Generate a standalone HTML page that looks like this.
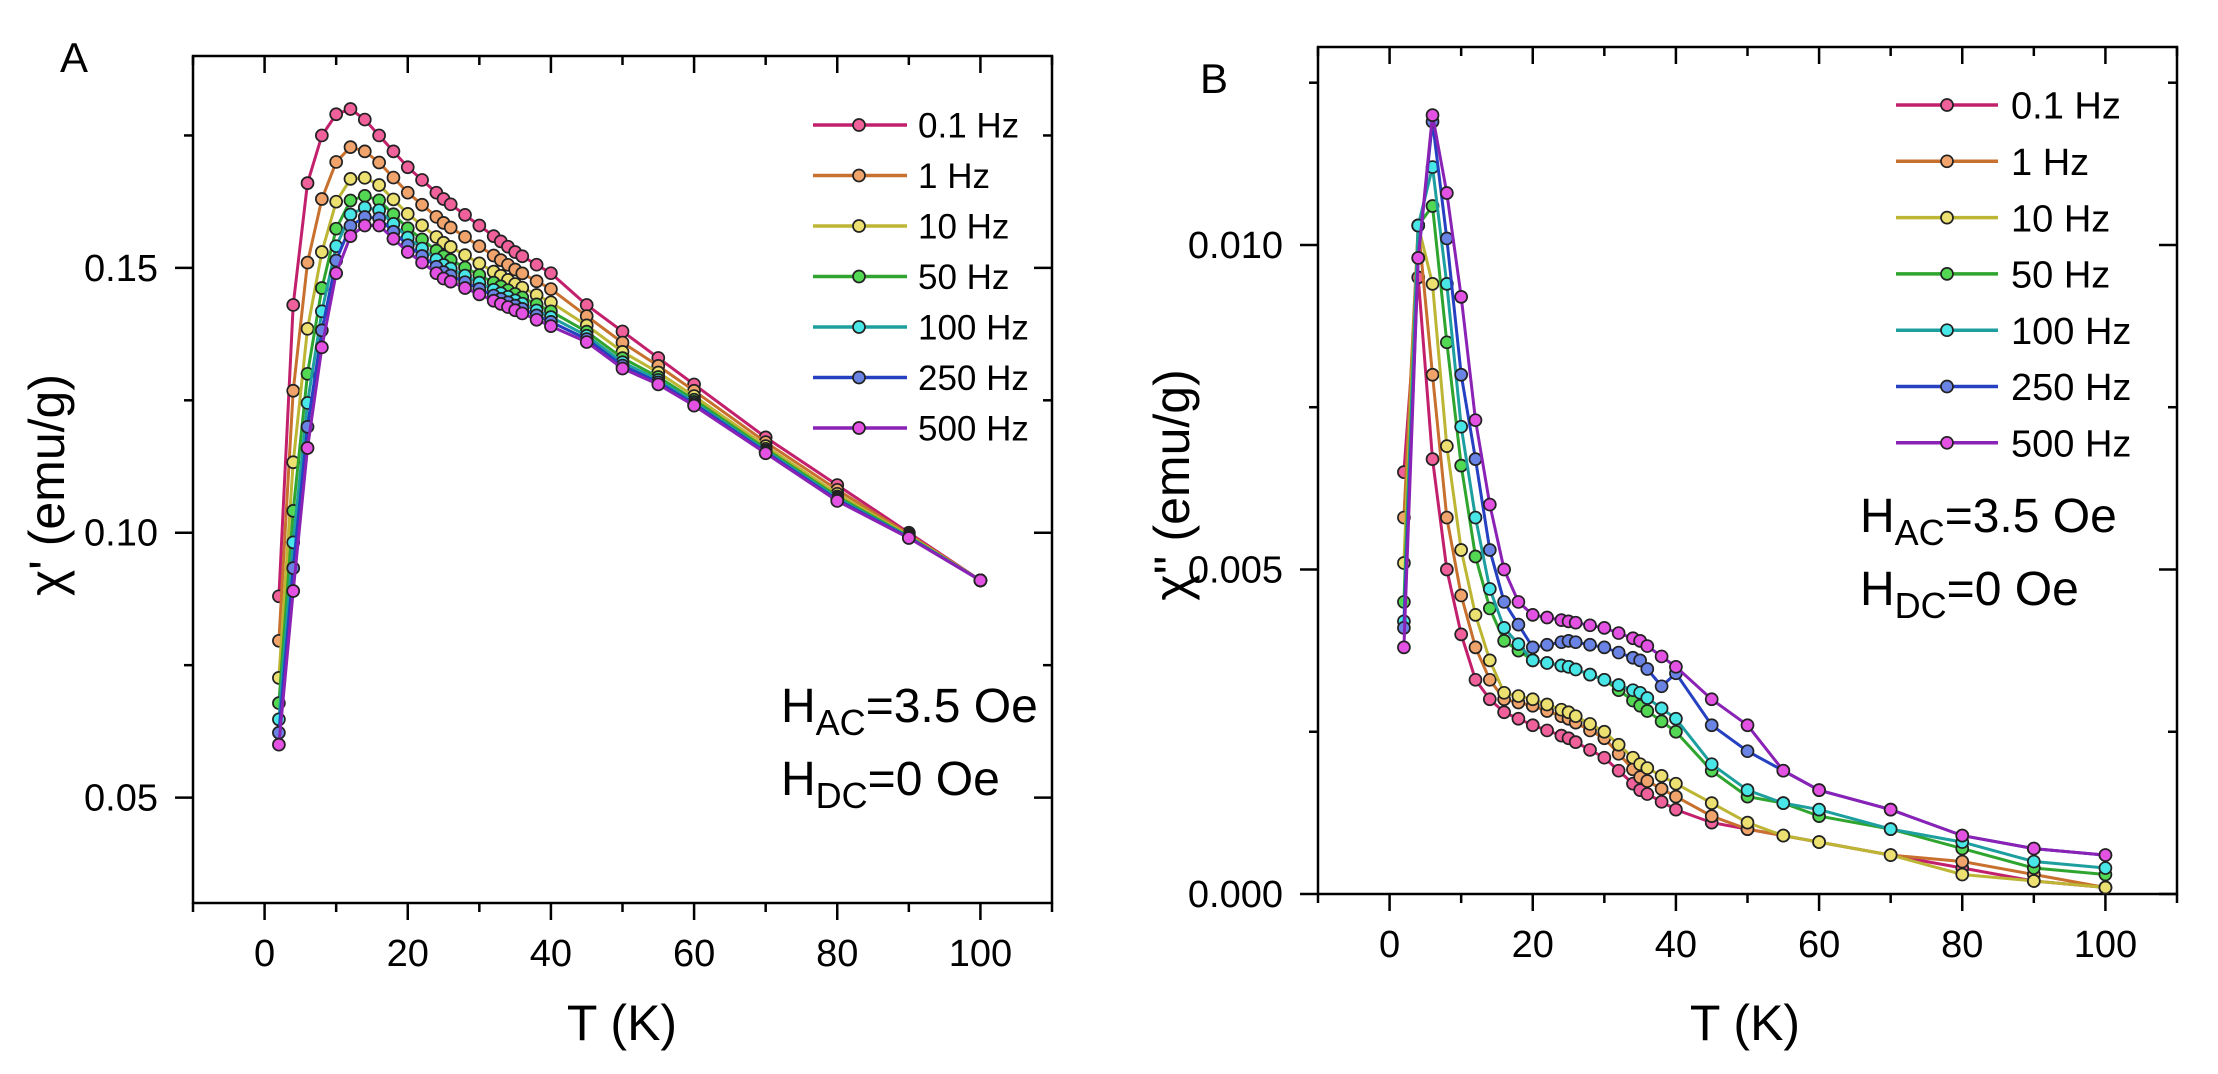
<!DOCTYPE html>
<html><head><meta charset="utf-8"><style>
html,body{margin:0;padding:0;background:#fff;}
svg{display:block;font-family:"Liberation Sans",Arial,sans-serif;}
</style></head><body>
<svg id="s" width="2218" height="1074" viewBox="0 0 2218 1074" xmlns="http://www.w3.org/2000/svg">
<rect width="2218" height="1074" fill="#fff"/>
<g id="g"></g>
<text x="60" y="72" font-size="42">A</text>
<text x="1200" y="93" font-size="42">B</text>
<text x="622" y="1040" font-size="50" text-anchor="middle">T (K)</text>
<text x="1745" y="1040" font-size="50" text-anchor="middle">T (K)</text>
<text transform="translate(64,485) rotate(-90)" font-size="50" text-anchor="middle">χ' (emu/g)</text>
<text transform="translate(1189,485) rotate(-90)" font-size="50" text-anchor="middle">χ'' (emu/g)</text>
<text x="781" y="722" font-size="48">H<tspan font-size="36" dy="13">AC</tspan><tspan dy="-13">=3.5 Oe</tspan></text>
<text x="781" y="795" font-size="48">H<tspan font-size="36" dy="13">DC</tspan><tspan dy="-13">=0 Oe</tspan></text>
<text x="1860" y="532" font-size="48">H<tspan font-size="36" dy="13">AC</tspan><tspan dy="-13">=3.5 Oe</tspan></text>
<text x="1860" y="605" font-size="48">H<tspan font-size="36" dy="13">DC</tspan><tspan dy="-13">=0 Oe</tspan></text>
</svg>
<script>
var NS="http://www.w3.org/2000/svg",G=document.getElementById("g");
function el(t,a,txt){var e=document.createElementNS(NS,t);for(var k in a)e.setAttribute(k,a[k]);if(txt!=null)e.textContent=txt;G.appendChild(e);return e;}
var LC=["#c2206c","#c8702e","#bdb534","#2fa52f","#1e9f9f","#2540c0","#8a22b5"];
var MC=["#f0609a","#f0a46c","#ece170","#52d852","#48e6e6","#6a84e6","#e452e4"];
var LAB=["0.1 Hz","1 Hz","10 Hz","50 Hz","100 Hz","250 Hz","500 Hz"];
function interp(kp,T){for(var i=0;i<kp.length-1;i++){if(T>=kp[i][0]&&T<=kp[i+1][0]){var f=(T-kp[i][0])/(kp[i+1][0]-kp[i][0]);return kp[i][1]+f*(kp[i+1][1]-kp[i][1]);}}return kp[kp.length-1][1];}
function axes(P){
 el("rect",{x:P.x0,y:P.y0,width:P.x1-P.x0,height:P.y1-P.y0,fill:"none",stroke:"#000","stroke-width":2.5});
 var sx=function(v){return P.x0+(v-P.xmin)/(P.xmax-P.xmin)*(P.x1-P.x0)},sy=function(v){return P.y1-(v-P.ymin)/(P.ymax-P.ymin)*(P.y1-P.y0)};
 P.sx=sx;P.sy=sy;
 for(var v=-10;v<=110;v+=10){var x=sx(v),maj=(v%20==0)&&v>=0&&v<=100,L=maj?17:9;
  el("line",{x1:x,y1:P.y1,x2:x,y2:P.y1+L,stroke:"#000","stroke-width":2.5});
  el("line",{x1:x,y1:P.y0,x2:x,y2:P.y0+L,stroke:"#000","stroke-width":2.5});
  if(maj)el("text",{x:x,y:P.y1+63,"font-size":38,"text-anchor":"middle"},String(v));}
 for(var i=0;i<P.yt.length;i++){var t=P.yt[i],y=sy(t[0]),L=t[1]?18:9;
  el("line",{x1:P.x0,y1:y,x2:P.x0-L,y2:y,stroke:"#000","stroke-width":2.5});
  el("line",{x1:P.x1,y1:y,x2:P.x1-L,y2:y,stroke:"#000","stroke-width":2.5});
  if(t[1])el("text",{x:P.x0-35,y:y+13,"font-size":38,"text-anchor":"end"},t[1]);}
}
function series(P,Ts,fn){
 for(var s=0;s<7;s++){var pts=Ts.map(function(T){return [P.sx(T),P.sy(fn(s,T))]});
  el("polyline",{points:pts.map(function(p){return p[0].toFixed(1)+","+p[1].toFixed(1)}).join(" "),fill:"none",stroke:LC[s],"stroke-width":3});
  pts.forEach(function(p){el("circle",{cx:p[0],cy:p[1],r:6,fill:MC[s],stroke:"#222","stroke-width":1.7})});}
}
function legend(lx0,lx1,mx,tx,y0,dy,fs){for(var s=0;s<7;s++){var y=y0+dy*s;
 el("line",{x1:lx0,y1:y,x2:lx1,y2:y,stroke:LC[s],"stroke-width":3.5});
 el("circle",{cx:mx,cy:y,r:6,fill:MC[s],stroke:"#222","stroke-width":1.7});
 el("text",{x:tx,y:y+fs*0.36,"font-size":fs},LAB[s]);}}
// Panel A
var A={x0:193,x1:1052,y0:56,y1:903,xmin:-10,xmax:110,ymin:0.0301,ymax:0.19,
 yt:[[0.05,"0.05"],[0.075,""],[0.10,"0.10"],[0.125,""],[0.15,"0.15"],[0.175,""]]};
axes(A);
var a0=[[2,.088],[4,.143],[6,.166],[8,.175],[10,.179],[12,.180],[14,.178],[16,.175],[20,.169],[25,.163],[30,.158],[35,.153],[40,.149],[45,.143],[50,.138],[55,.133],[60,.128],[70,.118],[80,.109],[90,.100],[100,.091]];
var a6=[[2,.060],[4,.089],[6,.116],[8,.135],[10,.149],[12,.156],[14,.158],[16,.158],[20,.153],[25,.148],[30,.145],[35,.142],[40,.139],[45,.136],[50,.131],[55,.128],[60,.124],[70,.115],[80,.106],[90,.099],[100,.091]];
var W=[0,.3,.55,.72,.83,.92,1];
var TA=[2,4,6,8,10,12,14,16,18,20,22,24,25,26,28,30,32,33,34,35,36,38,40,45,50,55,60,70,80,90,100];
series(A,TA,function(s,T){return interp(a0,T)*(1-W[s])+interp(a6,T)*W[s];});
legend(813,907,859,918,125,50.5,35);
// Panel B
var B={x0:1318,x1:2177,y0:47,y1:894,xmin:-10,xmax:110,ymin:0,ymax:0.01305,
 yt:[[0,"0.000"],[0.0025,""],[0.005,"0.005"],[0.0075,""],[0.010,"0.010"],[0.0125,""]]};
axes(B);
var K=[2,4,6,8,10,12,14,16,20,25,30,35,40,45,50,55,60,70,80,90,100];
var BV=[
[65,95,67,50,40,33,30,28,26,24,21,16,13,11,10,9,8,6,4,2,1],
[58,103,80,58,46,38,33,30,29,27,24,18,15,12,10,9,8,6,5,3,1],
[51,103,94,69,53,43,36,31,30,28,25,20,17,14,11,9,8,6,3,2,1],
[45,103,106,85,66,52,44,39,36,35,33,29,25,19,15,14,12,10,7,4,3],
[42,103,112,94,72,58,47,41,36,35,33,31,27,20,16,14,13,10,8,5,4],
[41,98,119,101,80,67,53,45,38,39,38,36,34,26,22,19,16,13,9,7,6],
[38,98,120,108,92,73,60,50,43,42,41,39,35,30,26,19,16,13,9,7,6]];
var bk=BV.map(function(r){return r.map(function(v,i){return [K[i],v/10000]})});
bk[5].splice(12,0,[38,.0032]);bk[6].splice(8,0,[18,.0045]);
var TB=[2,4,6,8,10,12,14,16,18,20,22,24,25,26,28,30,32,34,35,36,38,40,45,50,55,60,70,80,90,100];
series(B,TB,function(s,T){return interp(bk[s],T);});
legend(1896,1998,1947,2011,105,56.3,38);
</script>
</body></html>
